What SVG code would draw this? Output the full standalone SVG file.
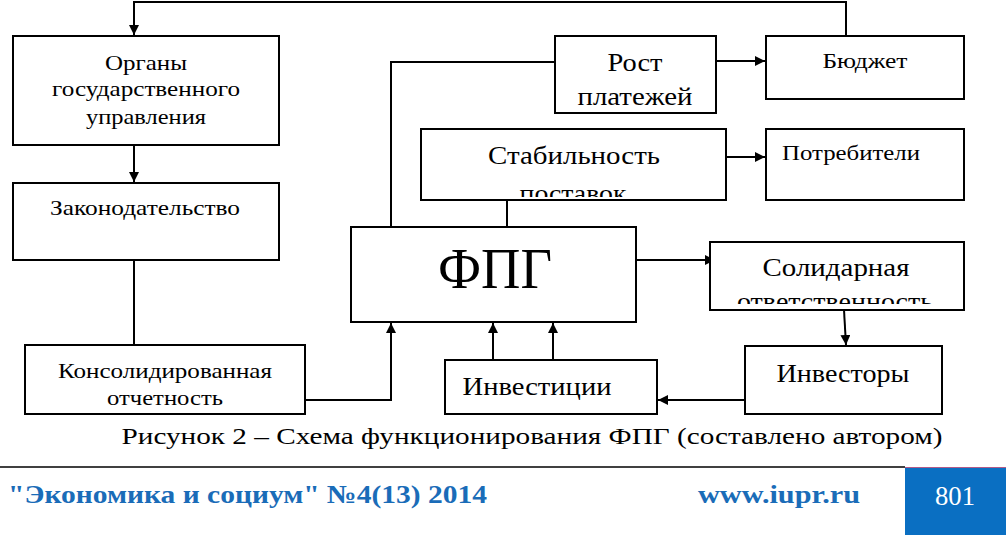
<svg xmlns="http://www.w3.org/2000/svg" width="1006" height="535" viewBox="0 0 1006 535" font-family="Liberation Serif, Times New Roman, serif">
<style>
.box{fill:#fff;stroke:#000;stroke-width:2}
.t{fill:#000;text-anchor:middle}
.s20{font-size:21px}
.s24{font-size:25px}
.c{fill:none;stroke:#000;stroke-width:2}
.ft{font-weight:bold;fill:#1a6cb8;font-size:26px}
.pg{font-size:27px;fill:#fff;text-anchor:middle}
</style>
<defs>
<marker id="ah" viewBox="0 0 10 10" refX="10" refY="5" markerWidth="5" markerHeight="5" orient="auto" markerUnits="strokeWidth">
<path d="M0,0 L10,5 L0,10 z" fill="#000"/>
</marker>
<clipPath id="clipStab"><rect x="421" y="129" width="305" height="68"/></clipPath>
<clipPath id="clipSol"><rect x="710" y="242" width="254" height="62"/></clipPath>
</defs>
<rect width="1006" height="535" fill="#fff"/>

<g id="connectors">
<polyline class="c" points="846,36 846,2 134,2 134,35" marker-end="url(#ah)"/>
<line class="c" x1="134" y1="145" x2="134" y2="182" marker-end="url(#ah)"/>
<line class="c" x1="134" y1="260" x2="134" y2="345"/>
<polyline class="c" points="305,400 391,400 391,323" marker-end="url(#ah)"/>
<polyline class="c" points="391,227 391,62 555,62"/>
<line class="c" x1="716" y1="61" x2="765" y2="61" marker-end="url(#ah)"/>
<line class="c" x1="507" y1="200" x2="507" y2="227"/>
<line class="c" x1="726" y1="157" x2="765" y2="157" marker-end="url(#ah)"/>
<line class="c" x1="636" y1="260" x2="715" y2="260" marker-end="url(#ah)"/>
<line class="c" x1="844" y1="310" x2="846" y2="345" marker-end="url(#ah)"/>
<line class="c" x1="745" y1="400" x2="658" y2="400" marker-end="url(#ah)"/>
<line class="c" x1="493" y1="360" x2="493" y2="323" marker-end="url(#ah)"/>
<line class="c" x1="553" y1="360" x2="553" y2="323" marker-end="url(#ah)"/>
</g>

<g id="organy">
<rect class="box" x="13" y="36" width="266" height="109"/>
<text class="t s20" x="146" y="70" textLength="82" lengthAdjust="spacingAndGlyphs">Органы</text>
<text class="t s20" x="146" y="96" textLength="188" lengthAdjust="spacingAndGlyphs">государственного</text>
<text class="t s20" x="146" y="124" textLength="120" lengthAdjust="spacingAndGlyphs">управления</text>
</g>
<g id="zakon">
<rect class="box" x="13" y="183" width="266" height="77"/>
<text class="t s20" x="145" y="215" textLength="190" lengthAdjust="spacingAndGlyphs">Законодательство</text>
</g>
<g id="konsol">
<rect class="box" x="25" y="345" width="280" height="69"/>
<text class="t s20" x="165" y="378" textLength="214" lengthAdjust="spacingAndGlyphs">Консолидированная</text>
<text class="t s20" x="165" y="405" textLength="116" lengthAdjust="spacingAndGlyphs">отчетность</text>
</g>
<g id="fpg">
<rect class="box" x="351" y="227" width="285" height="95"/>
<text class="t" style="font-size:58px" x="495" y="288" textLength="114" lengthAdjust="spacingAndGlyphs">ФПГ</text>
</g>
<g id="rost">
<rect class="box" x="555" y="36" width="161" height="77"/>
<text class="t s24" x="635" y="71" textLength="55" lengthAdjust="spacingAndGlyphs">Рост</text>
<text class="t s24" x="635" y="105" textLength="115" lengthAdjust="spacingAndGlyphs">платежей</text>
</g>
<g id="budget">
<rect class="box" x="766" y="36" width="198" height="63"/>
<text class="t s20" x="865" y="68" textLength="85" lengthAdjust="spacingAndGlyphs">Бюджет</text>
</g>
<g id="stab">
<rect class="box" x="421" y="129" width="305" height="71"/>
<text class="t s24" x="574" y="164" textLength="172" lengthAdjust="spacingAndGlyphs">Стабильность</text>
<text class="t s24" x="573" y="202" clip-path="url(#clipStab)" textLength="107" lengthAdjust="spacingAndGlyphs">поставок</text>
</g>
<g id="potreb">
<rect class="box" x="766" y="129" width="198" height="71"/>
<text class="t s20" x="851" y="160" textLength="138" lengthAdjust="spacingAndGlyphs">Потребители</text>
</g>
<g id="solid">
<rect class="box" x="710" y="242" width="254" height="68"/>
<text class="t s24" x="836" y="276" textLength="147" lengthAdjust="spacingAndGlyphs">Солидарная</text>
<text class="t s24" x="835" y="310" clip-path="url(#clipSol)" textLength="196" lengthAdjust="spacingAndGlyphs">ответственность</text>
</g>
<g id="investory">
<rect class="box" x="745" y="346" width="197" height="68"/>
<text class="t s24" x="843" y="382" textLength="133" lengthAdjust="spacingAndGlyphs">Инвесторы</text>
</g>
<g id="investicii">
<rect class="box" x="445" y="360" width="212" height="54"/>
<text class="t s24" x="537" y="395" textLength="149" lengthAdjust="spacingAndGlyphs">Инвестиции</text>
</g>

<text class="t" style="font-size:24px" x="532" y="444" textLength="821" lengthAdjust="spacingAndGlyphs">Рисунок 2 – Схема функционирования ФПГ (составлено автором)</text>

<line x1="0" y1="467" x2="905" y2="467" stroke="#000" stroke-width="1.5"/>
<rect x="905" y="467" width="101" height="68" fill="#0a6fc2"/>
<line x1="905" y1="467.5" x2="1006" y2="467.5" stroke="#b05a8a" stroke-width="1"/>
<text class="pg" x="955" y="505" textLength="40" lengthAdjust="spacingAndGlyphs">801</text>
<text class="ft" x="8" y="503" textLength="479" lengthAdjust="spacingAndGlyphs">"Экономика и социум" №4(13) 2014</text>
<text class="ft" x="698" y="503" textLength="162" lengthAdjust="spacingAndGlyphs">www.iupr.ru</text>
</svg>
